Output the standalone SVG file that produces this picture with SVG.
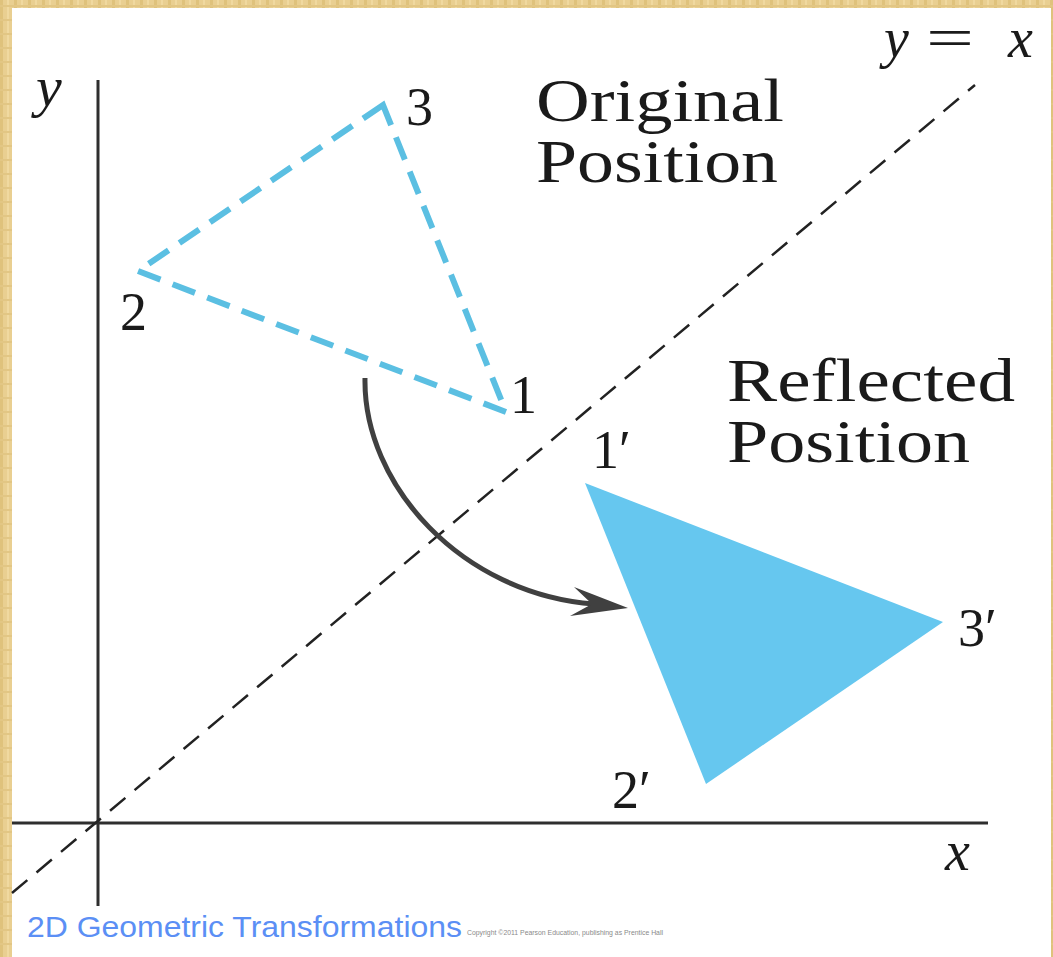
<svg xmlns="http://www.w3.org/2000/svg" width="1053" height="957" viewBox="0 0 1053 957">
  <style>
    .serif { font-family: "Liberation Serif", "Times New Roman", serif; fill: #1a1a1a; }
    .ital { font-style: italic; }
    .lbl { font-size: 54px; }
    .title { font-size: 61px; }
    .axis { stroke: #2e2e2e; stroke-width: 3; fill: none; }
    .diag { stroke: #222; stroke-width: 2.5; stroke-dasharray: 20 12; fill: none; }
    .orig { stroke: #5bbfe2; stroke-width: 6; stroke-dasharray: 24 13; fill: none; stroke-linejoin: miter; }
    .refl { fill: #66c7ef; stroke: none; }
    .arrow { stroke: #404040; stroke-width: 5; fill: none; }
  </style>
  <defs>
    <pattern id="tex" width="14" height="14" patternUnits="userSpaceOnUse">
      <rect width="14" height="14" fill="#e9cf91"/>
      <rect x="0" y="0" width="3" height="14" fill="#dfc27c"/>
      <rect x="7" y="0" width="2" height="14" fill="#f0d9a0"/>
      <rect x="0" y="5" width="14" height="2" fill="#e2c684"/>
    </pattern>
  </defs>

  <!-- background and border -->
  <rect x="0" y="0" width="1053" height="957" fill="url(#tex)"/>
  <rect x="12" y="8" width="1039" height="949" fill="#ffffff"/>

  <!-- axes and y=x line -->
  <g id="axes">
    <line class="axis" x1="98" y1="80" x2="98" y2="906"/>
    <line class="axis" x1="12" y1="823" x2="988" y2="823"/>
    <line class="diag" x1="12" y1="893" x2="975" y2="85"/>
    <text class="serif ital" x="36" y="106" font-size="58">y</text>
    <text class="serif ital" x="945" y="870" font-size="56">x</text>
    <text class="serif ital" x="884" y="57" font-size="56">y</text>
    <text class="serif" x="926" y="57" font-size="56" textLength="48" lengthAdjust="spacingAndGlyphs">=</text>
    <text class="serif ital" x="1008" y="57" font-size="56">x</text>
  </g>

  <!-- original triangle -->
  <g id="original">
    <polygon class="orig" points="383,105 138,271 506,412"/>
    <text class="serif lbl" x="406" y="125">3</text>
    <text class="serif lbl" x="120" y="330">2</text>
    <text class="serif lbl" x="510" y="413">1</text>
    <text class="serif title" x="536" y="121" textLength="248" lengthAdjust="spacingAndGlyphs">Original</text>
    <text class="serif title" x="536" y="182" textLength="242" lengthAdjust="spacingAndGlyphs">Position</text>
  </g>

  <!-- reflected triangle -->
  <g id="reflected">
    <polygon class="refl" points="585,483 943,622 706,784"/>
    <text class="serif lbl" x="592" y="468">1′</text>
    <text class="serif lbl" x="958" y="646">3′</text>
    <text class="serif lbl" x="612" y="808">2′</text>
    <text class="serif title" x="727" y="401" textLength="288" lengthAdjust="spacingAndGlyphs">Reflected</text>
    <text class="serif title" x="727" y="462" textLength="243" lengthAdjust="spacingAndGlyphs">Position</text>
  </g>

  <!-- connector -->
  <g id="connectors">
    <path class="arrow" d="M365,378 C363,485 462,594 594,604"/>
    <path d="M628,608 L574,587 L592,604 L570,616 Z" fill="#404040"/>
  </g>

  <!-- caption -->
  <g id="caption">
    <text x="27" y="937" font-family="Liberation Sans, Arial, sans-serif" font-size="30" fill="#5b8ff5" textLength="435" lengthAdjust="spacingAndGlyphs">2D Geometric Transformations</text>
    <text x="467" y="935" font-family="Liberation Sans, Arial, sans-serif" font-size="7" fill="#8a8a8a" textLength="196" lengthAdjust="spacingAndGlyphs">Copyright ©2011 Pearson Education, publishing as Prentice Hall</text>
  </g>
</svg>
